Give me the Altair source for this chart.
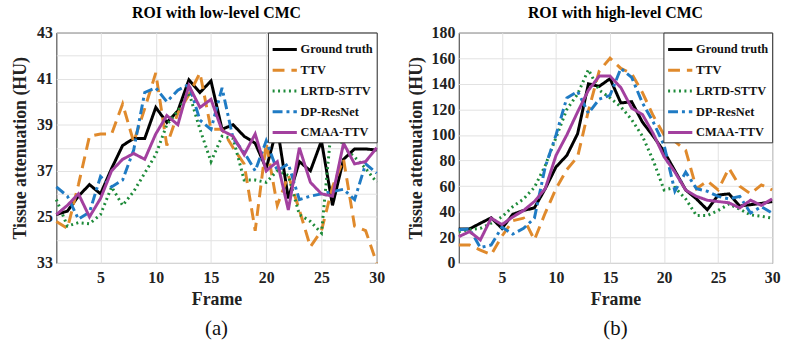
import altair as alt
import pandas as pd

frames = list(range(1, 31))
series_names = ["Ground truth", "TTV", "LRTD-STTV", "DP-ResNet", "CMAA-TTV"]
series_colors = ["#000000", "#E08A2C", "#1E8B3A", "#1F7BC4", "#A3409F"]
series_dashes = [[1, 0], [12, 7], [2, 3.5], [10, 4, 3, 4], [1, 0]]

# Panel (a): ROI with low-level CMC
low_gt = [35.1, 35.25, 35.9, 36.4, 36.0, 37.1, 38.1, 38.4, 38.4, 39.75, 39.1, 39.6, 40.95, 40.4, 40.9,
          38.8, 39.0, 38.5, 38.2, 37.1, 38.9, 35.8, 37.4, 37.0, 38.3, 35.5, 37.5, 37.95, 37.95, 37.9]
low_ttv = [34.8, 34.5, 36.4, 38.5, 38.6, 38.6, 39.9, 38.25, 39.7, 41.25, 38.1, 39.5, 40.3, 41.25, 38.8,
           38.8, 38.0, 37.3, 34.4, 38.2, 35.5, 36.8, 35.3, 33.7, 34.4, 36.3, 37.5, 34.6, 34.4, 33.0]
low_lrtd = [35.75, 34.6, 34.75, 34.7, 35.1, 36.3, 35.5, 36.1, 36.9, 37.7, 39.0, 39.6, 40.4, 38.8, 37.4,
            38.5, 38.4, 36.6, 36.6, 36.5, 37.0, 36.8, 35.1, 34.8, 34.3, 39.4, 38.0, 37.6, 37.1, 36.5]
low_dp = [36.3, 35.9, 34.9, 35.2, 36.75, 36.3, 36.6, 37.9, 40.4, 40.6, 40.0, 40.5, 40.75, 39.2, 38.8,
          40.6, 38.4, 37.8, 37.0, 38.3, 37.0, 37.3, 35.75, 35.9, 36.0, 36.1, 36.2, 35.75, 37.3, 36.9]
low_cmaa = [35.1, 35.5, 36.0, 35.0, 35.8, 37.0, 37.5, 37.75, 37.5, 38.6, 39.4, 39.0, 40.7, 39.75, 40.1,
            38.75, 38.5, 37.7, 38.6, 37.0, 37.4, 35.3, 38.0, 36.5, 36.0, 35.9, 38.2, 37.3, 37.4, 38.0]

# Panel (b): ROI with high-level CMC
high_gt = [26.6, 26.6, 31, 35.3, 27, 38, 41, 43, 58, 75, 84, 101, 140, 138, 144,
           125, 126, 110, 99, 87, 72, 57, 50, 41.5, 53, 54, 44.5, 45.5, 46.5, 48]
high_ttv = [14, 14, 10, 6.5, 21, 33, 35, 18, 39, 58, 73, 83, 119, 150, 160,
            152, 148, 133, 115, 100, 95, 88, 58, 64, 57, 74, 60, 54, 61, 57]
high_lrtd = [24.5, 26, 27, 31, 36, 44, 50, 59, 76, 98, 120, 132, 151, 135, 129,
             122, 112, 99, 80, 57, 59, 50, 37, 37, 41, 46, 42, 37.5, 36.5, 35]
high_dp = [26, 26.5, 12, 14, 28, 22.5, 27, 35, 75, 100, 129, 134, 117, 128, 131,
           152, 145, 125, 110, 92, 56, 71, 58, 56, 52, 50, 52, 39, 44, 39]
high_cmaa = [20.5, 24.5, 18, 35, 30, 36, 41, 48, 58, 84, 100, 118, 135, 146, 146,
             137, 121, 116, 101, 83, 71, 57, 52, 49, 48, 47, 43, 49, 45, 50]

low_ticks = list(range(33, 44))
high_ticks = list(range(0, 181, 20))
x_ticks = [5, 10, 15, 20, 25, 30]

FONT = "Liberation Serif"
PLOT_H = 233


def long_frame(series_values):
    rows = []
    for name, vals in zip(series_names, series_values):
        for f, v in zip(frames, vals):
            rows.append({"Frame": f, "value": v, "series": name})
    return pd.DataFrame(rows)


def panel(df, title, label, ydomain, yticks, ylabel_expr, width, extent, tpad):
    xscale = alt.Scale(domain=[1, 30], nice=False, zero=False)
    yscale = alt.Scale(domain=ydomain, nice=False, zero=False)
    lines = alt.Chart(df).mark_line(strokeWidth=3, strokeJoin="miter").encode(
        x=alt.X("Frame:Q", scale=xscale,
                axis=alt.Axis(values=x_ticks, title="Frame", labelFlush=False,
                              labelPadding=7, titlePadding=5)),
        y=alt.Y("value:Q", scale=yscale,
                axis=alt.Axis(values=yticks, title="Tissue attenuation (HU)",
                              labelExpr=ylabel_expr, labelOverlap=False,
                              labelPadding=4, minExtent=extent, maxExtent=extent,
                              titlePadding=tpad)),
        color=alt.Color("series:N",
                        scale=alt.Scale(domain=series_names, range=series_colors),
                        legend=alt.Legend(title=None)),
        strokeDash=alt.StrokeDash("series:N",
                                  scale=alt.Scale(domain=series_names, range=series_dashes),
                                  legend=alt.Legend(title=None)),
    )
    # sub-figure label "(a)" / "(b)" below the x-axis title
    sub = alt.Chart(pd.DataFrame({"label": [label]})).mark_text(
        font=FONT, fontSize=21, fontWeight="normal", color="#111111", baseline="middle"
    ).encode(
        text="label:N",
        x=alt.value(width / 2),
        y=alt.value(PLOT_H + 67),
    )
    return alt.layer(lines, sub).properties(
        width=width, height=PLOT_H,
        title=alt.TitleParams(title, fontSize=16, fontWeight="bold", font=FONT,
                              anchor="middle", offset=4),
    )


low_expr = "datum.value % 2 == 1 ? (datum.value == 35 ? '25' : datum.label) : ''"
high_expr = "datum.label"

left = panel(long_frame([low_gt, low_ttv, low_lrtd, low_dp, low_cmaa]),
             "ROI with low-level CMC", "(a)", [33, 43], low_ticks, low_expr, 324, 24, 3)
right = panel(long_frame([high_gt, high_ttv, high_lrtd, high_dp, high_cmaa]),
              "ROI with high-level CMC", "(b)", [0, 180], high_ticks, high_expr, 317, 30, 4)

chart = alt.hconcat(left, right, spacing=21).resolve_legend(
    color="independent", strokeDash="independent"
).properties(
    padding={"left": 11, "top": 2, "right": 5, "bottom": 0}
).configure(
    font=FONT, background="white"
).configure_view(
    stroke="#333333", strokeWidth=1
).configure_axis(
    labelFont=FONT, labelFontSize=16, labelFontWeight="bold", labelColor="#222222",
    titleFont=FONT, titleFontSize=18, titleFontWeight="bold", titleColor="#222222",
    ticks=False, domain=False, gridColor="#E2E2E2", gridWidth=1
).configure_legend(
    orient="top-right", offset=0, padding=3, strokeColor="#333333", fillColor="white",
    labelFont=FONT, labelFontSize=12.5, labelFontWeight="bold", labelColor="#111111",
    symbolType="stroke", symbolStrokeWidth=3, symbolSize=600, rowPadding=-10,
    labelOffset=2, cornerRadius=0
)

chart.save("out.html", embed_options={"renderer": "svg", "actions": False})
